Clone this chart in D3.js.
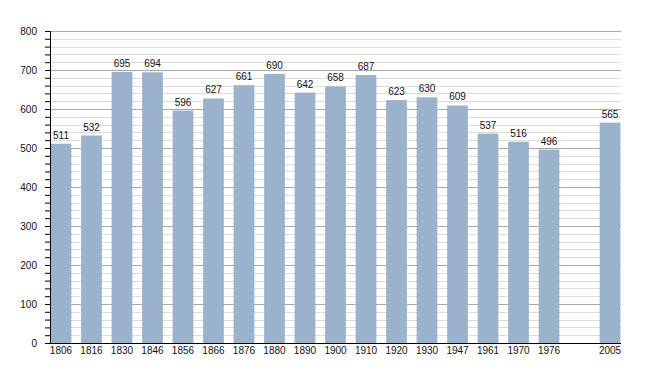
<!DOCTYPE html>
<html>
<head>
<meta charset="utf-8">
<script src="https://cdn.jsdelivr.net/npm/d3@7"></script>
<style>
  body { margin: 0; background: #fff; }
  svg text { font-family: "Liberation Sans", Arial, sans-serif; font-size: 10px; fill: #111; }
</style>
</head>
<body>
<svg id="chart" width="650" height="373"></svg>
<script>
// census years (one empty slot before 2005)
const years = ["1806", "1816", "1830", "1846", "1856", "1866", "1876", "1880", "1890",
  "1900", "1910", "1920", "1930", "1947", "1961", "1970", "1976", "", "2005"];
const population = [511, 532, 695, 694, 596, 627, 661, 690, 642,
  658, 687, 623, 630, 609, 537, 516, 496, null, 565];
const yTicks = [0, 100, 200, 300, 400, 500, 600, 700, 800];

const svg = d3.select("#chart");
const plotLeft = 50, plotRight = 621, plotTop = 31, plotBottom = 343;

const x = d3.scaleBand()
  .domain(d3.range(years.length))
  .range([plotLeft, plotRight])
  .paddingInner(0.32)
  .paddingOuter(0.02);

const y = d3.scaleLinear().domain([0, 800]).range([plotBottom, plotTop]);

// minor gridlines every 20
const minor = d3.range(20, 800, 20).filter(v => v % 100 !== 0);
svg.append("g").selectAll("line")
  .data(minor)
  .join("line")
  .attr("x1", plotLeft).attr("x2", plotRight)
  .attr("y1", d => Math.round(y(d)) + 0.5).attr("y2", d => Math.round(y(d)) + 0.5)
  .attr("stroke", "#dcdcdc");

// major gridlines
svg.append("g").selectAll("line")
  .data(yTicks.slice(1))
  .join("line")
  .attr("x1", plotLeft).attr("x2", plotRight)
  .attr("y1", d => Math.round(y(d)) + 0.5).attr("y2", d => Math.round(y(d)) + 0.5)
  .attr("stroke", "#a8a8a8");

// bars
const data = years.map((yr, i) => ({ i, yr, v: population[i] })).filter(d => d.v != null);
svg.append("g").selectAll("rect")
  .data(data)
  .join("rect")
  .attr("x", d => x(d.i))
  .attr("width", x.bandwidth())
  .attr("y", d => y(d.v))
  .attr("height", d => y(0) - y(d.v))
  .attr("fill", "#9ab2cc");

// value labels
svg.append("g").selectAll("text")
  .data(data)
  .join("text")
  .attr("x", d => x(d.i) + x.bandwidth() / 2)
  .attr("y", d => y(d.v) - 5)
  .attr("text-anchor", "middle")
  .text(d => d.v);

// y axis
const yAxis = d3.axisLeft(y)
  .tickValues(d3.range(0, 801, 20))
  .tickSize(5)
  .tickFormat(d => d % 100 === 0 ? d : "");
const gy = svg.append("g").attr("transform", `translate(${plotLeft},0)`).call(yAxis);
gy.select(".domain").attr("stroke", "#000");
gy.selectAll(".tick line").attr("stroke", "#000");
gy.selectAll(".tick text").attr("x", -13).style("font-size", "10px")
  .style("font-family", '"Liberation Sans", Arial, sans-serif');

// x axis
const xAxis = d3.axisBottom(x).tickSize(0).tickPadding(4).tickFormat(i => years[i]);
const gx = svg.append("g").attr("transform", `translate(0,${plotBottom})`).call(xAxis);
gx.select(".domain").attr("stroke", "#000").attr("d", `M${plotLeft - 1},0.5H${plotRight}`);
gx.selectAll(".tick text").style("font-size", "10px")
  .style("font-family", '"Liberation Sans", Arial, sans-serif');
</script>
</body>
</html>
